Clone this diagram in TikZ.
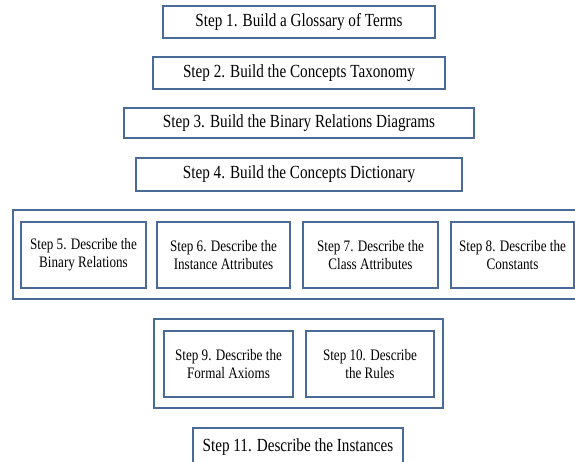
\documentclass[tikz,border=0pt]{standalone}
\usepackage{fontspec}
\setmainfont{Liberation Serif}[FakeStretch=0.82]
\usepackage{tikz}
\usetikzlibrary{shapes, positioning, backgrounds}

\definecolor{framecol}{RGB}{74,106,152}

\tikzset{
    stepbox/.style={rectangle, draw=framecol, line width=1.6pt, fill=white, inner sep=0pt, align=center, font=\fontsize{18.5}{20}\selectfont},
    substep/.style={stepbox, minimum height=66pt, font=\fontsize{16}{18}\selectfont},
    groupbox/.style={rectangle, draw=framecol, line width=1.6pt, inner sep=0pt}
}

\begin{document}
\begin{tikzpicture}[x=1pt, y=-1pt]
    \useasboundingbox (0,0) rectangle (575,461);
    \clip (0,0) rectangle (575,461);

    % sequential steps
    \node [stepbox, minimum width=272pt, minimum height=32pt] (s1) at (299,22) {Step 1. Build a Glossary of Terms};
    \node [stepbox, minimum width=292pt, minimum height=32pt] (s2) at (299,73) {Step 2. Build the Concepts Taxonomy};
    \node [stepbox, minimum width=350pt, minimum height=30pt] (s3) at (299,123) {Step 3. Build the Binary Relations Diagrams};
    \node [stepbox, minimum width=326pt, minimum height=33pt] (s4) at (299,174.5) {Step 4. Build the Concepts Dictionary};

    % first group
    \node [substep, minimum width=125pt] (s5) at (83.5,255) {Step 5. Describe the\\Binary Relations};
    \node [substep, minimum width=133pt] (s6) at (223.5,255) {Step 6. Describe the\\Instance Attributes};
    \node [substep, minimum width=135pt] (s7) at (370.5,255) {Step 7. Describe the\\Class Attributes};
    \node [substep, minimum width=123pt] (s8) at (512.5,255) {Step 8. Describe the\\Constants};

    % second group
    \node [substep, minimum width=129pt] (s9) at (228.5,364) {Step 9. Describe the\\Formal Axioms};
    \node [substep, minimum width=128pt] (s10) at (370,364) {Step 10. Describe\\the Rules};

    \node [stepbox, minimum width=210pt, minimum height=38pt] (s11) at (298,447) {Step 11. Describe the Instances};

\begin{scope}[on background layer]
    \node [groupbox, minimum width=577pt, minimum height=89pt] (group1) at (301.5,254.5) {};
    \node [groupbox, minimum width=289pt, minimum height=89pt] (group2) at (298.5,363.5) {};
\end{scope}
\end{tikzpicture}
\end{document}
